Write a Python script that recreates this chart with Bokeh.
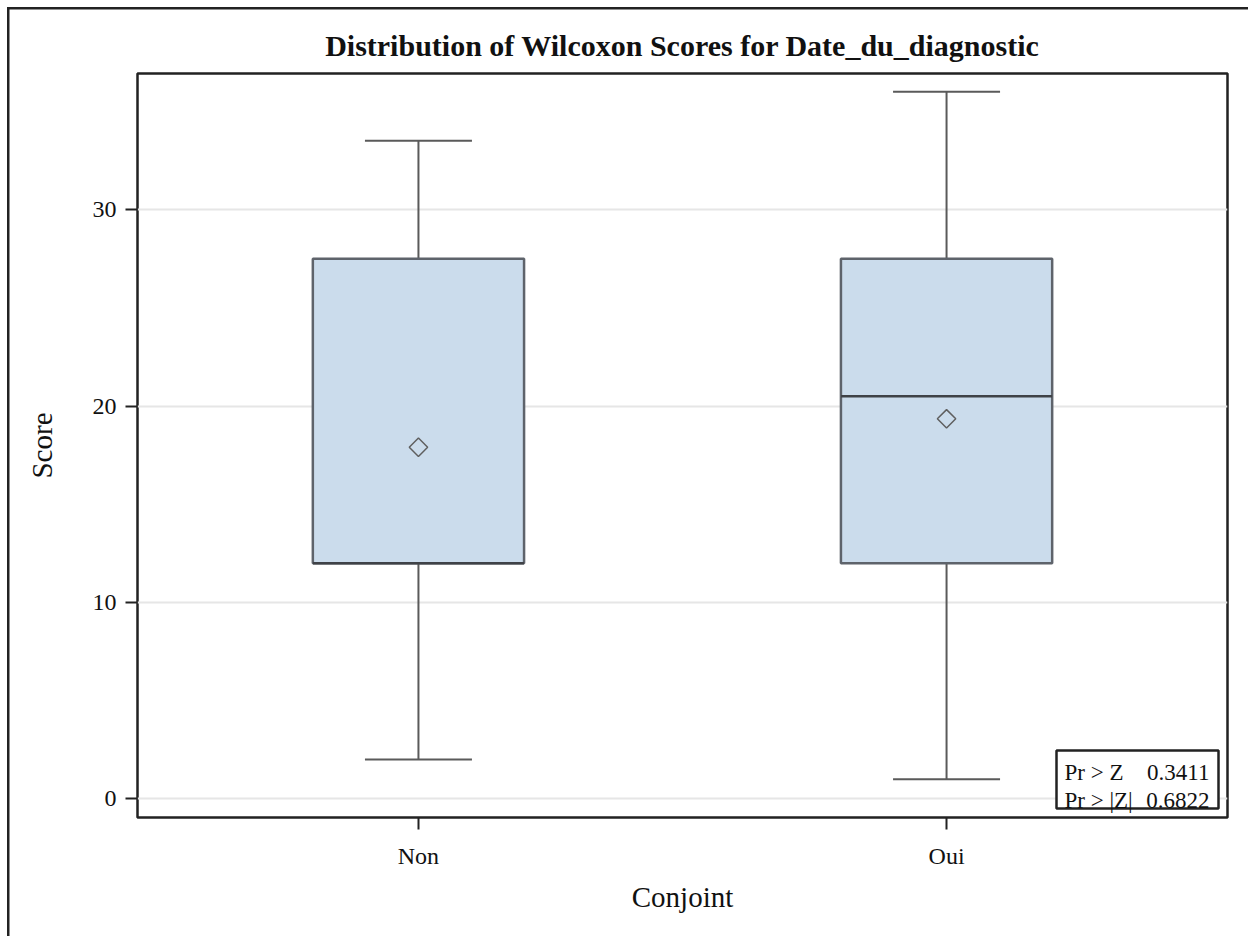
from bokeh.plotting import figure
from bokeh.models import (FactorRange, Range1d, FixedTicker, BoxAnnotation, Label,
                          ColumnDataSource)
from bokeh.embed import file_html
from bokeh.resources import INLINE

# ---- data ----
categories = ["Non", "Oui"]
whisker_low = [2.0, 1.0]
q1 = [12.0, 12.0]
median = [12.0, 20.5]
q3 = [27.5, 27.5]
whisker_high = [33.5, 36.0]
mean = [17.9, 19.35]
y_ticks = [0, 10, 20, 30]
stat_names = ["Pr > Z", "Pr > |Z|"]
stat_values = ["0.3411", "0.6822"]

FONT = "Liberation Serif"
TXT = "#111111"

src = ColumnDataSource(dict(cat=categories, lo=whisker_low, q1=q1, med=median,
                            q3=q3, hi=whisker_high, mean=mean))

p = figure(width=1248, height=936, output_backend="svg", toolbar_location=None,
           x_range=FactorRange(*categories, range_padding=0.032,
                               range_padding_units="absolute"),
           y_range=Range1d(-0.95, 36.93),
           title="Distribution of Wilcoxon Scores for Date_du_diagnostic",
           min_border_left=137, min_border_right=21, min_border_top=73,
           min_border_bottom=119)

# outer border of the graph area (only its left and top edges fall in the window)
p.styles = {"box-shadow": "inset 7px 7px 0 0 #ffffff, inset 9.5px 9.5px 0 0 #222222",
            "background-color": "#ffffff"}

p.title.align = "center"
p.title.text_font = FONT
p.title.text_font_size = "30px"
p.title.text_font_style = "bold"
p.title.text_color = TXT
p.title.standoff = 24

p.outline_line_color = "#222222"
p.outline_line_width = 2.5
p.background_fill_color = "white"
p.border_fill_alpha = 0

p.xgrid.grid_line_color = None
p.ygrid.grid_line_color = "#e6e6e6"
p.ygrid.grid_line_width = 2

p.yaxis.ticker = FixedTicker(ticks=y_ticks)
for ax in (p.xaxis[0], p.yaxis[0]):
    ax.axis_line_color = None
    ax.major_tick_line_color = "#222222"
    ax.major_tick_line_width = 2
    ax.major_tick_in = 0
    ax.major_tick_out = 12
    ax.minor_tick_line_color = None
    ax.major_label_text_font = FONT
    ax.major_label_text_font_size = "24px"
    ax.major_label_text_color = TXT
    ax.axis_label_text_font = FONT
    ax.axis_label_text_font_size = "29px"
    ax.axis_label_text_font_style = "normal"
    ax.axis_label_text_color = TXT
p.yaxis.axis_label = "Score"
p.xaxis.axis_label = "Conjoint"
p.yaxis.major_label_standoff = 9
p.xaxis.major_label_standoff = 13
p.yaxis.axis_label_standoff = 32
p.xaxis.axis_label_standoff = 9

WH = "#5a5a5a"
# whiskers
p.segment(x0="cat", y0="q3", x1="cat", y1="hi", source=src, line_color=WH, line_width=2)
p.segment(x0="cat", y0="lo", x1="cat", y1="q1", source=src, line_color=WH, line_width=2)
p.scatter(x="cat", y="hi", source=src, marker="dash", size=107, line_color=WH, line_width=2)
p.scatter(x="cat", y="lo", source=src, marker="dash", size=107, line_color=WH, line_width=2)
# boxes
p.vbar(x="cat", width=0.4, bottom="q1", top="q3", source=src,
       fill_color="#cbdcec", line_color="#5e636b", line_width=2.5)
# median
p.scatter(x="cat", y="med", source=src, marker="dash", size=211,
          line_color="#3f4247", line_width=2.5)
# mean
p.scatter(x="cat", y="mean", source=src, marker="square", angle=0.785398, size=13,
          fill_alpha=0, line_color="#5f5f5f", line_width=1.5)

# statistics inset
p.add_layout(BoxAnnotation(left=1056, right=1218, top=750, bottom=808,
                           left_units="canvas", right_units="canvas",
                           top_units="canvas", bottom_units="canvas",
                           fill_color="white", fill_alpha=1,
                           line_color="#222222", line_alpha=1, line_width=2.5))
for i, (nm, vl) in enumerate(zip(stat_names, stat_values)):
    yb = 772 + 28 * i
    p.add_layout(Label(x=1064, y=yb, x_units="canvas", y_units="canvas", text=nm,
                       text_font=FONT, text_font_size="23px", text_color=TXT,
                       text_baseline="alphabetic", text_align="left"))
    p.add_layout(Label(x=1209, y=yb, x_units="canvas", y_units="canvas", text=vl,
                       text_font=FONT, text_font_size="23px", text_color=TXT,
                       text_baseline="alphabetic", text_align="right"))

open("out.html", "w").write(file_html(p, INLINE))
